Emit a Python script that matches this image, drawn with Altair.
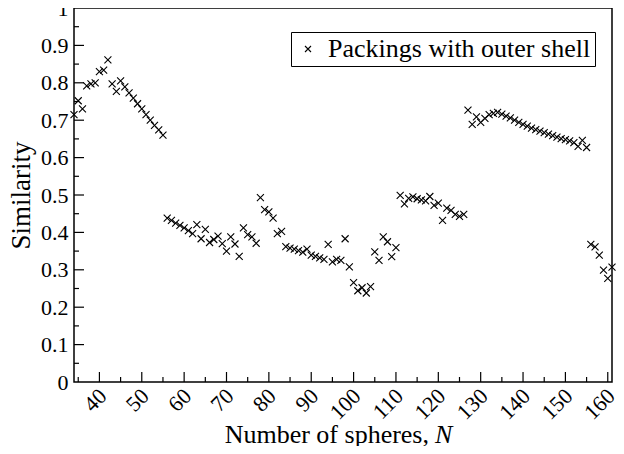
import altair as alt
import pandas as pd

# Number of spheres N (consecutive integers 34..161)
n_values = list(range(34, 162))

similarity = [
    # 34-55
    0.715, 0.752, 0.730, 0.792, 0.797, 0.800, 0.830, 0.834, 0.861, 0.797, 0.777,
    0.805, 0.789, 0.773, 0.759, 0.744, 0.730, 0.715, 0.700, 0.686, 0.674, 0.660,
    # 56-87
    0.438, 0.432, 0.425, 0.419, 0.412, 0.405, 0.397, 0.421, 0.383, 0.408, 0.373,
    0.381, 0.390, 0.370, 0.350, 0.388, 0.369, 0.336, 0.412, 0.394, 0.388, 0.371,
    0.493, 0.461, 0.455, 0.438, 0.397, 0.403, 0.362, 0.358, 0.355, 0.351,
    # 88-110
    0.347, 0.355, 0.339, 0.336, 0.332, 0.328, 0.368, 0.321, 0.328, 0.325, 0.383,
    0.308, 0.266, 0.244, 0.252, 0.238, 0.255, 0.348, 0.325, 0.388, 0.375, 0.335,
    0.359,
    # 111-126
    0.499, 0.476, 0.491, 0.495, 0.490, 0.487, 0.484, 0.496, 0.472, 0.478, 0.432,
    0.465, 0.459, 0.448, 0.443, 0.448,
    # 127-155
    0.727, 0.689, 0.709, 0.694, 0.705, 0.715, 0.718, 0.721, 0.716, 0.711, 0.706,
    0.700, 0.694, 0.689, 0.684, 0.679, 0.675, 0.671, 0.667, 0.663, 0.659, 0.655,
    0.651, 0.648, 0.645, 0.640, 0.630, 0.646, 0.627,
    # 156-161
    0.368, 0.361, 0.339, 0.299, 0.277, 0.307,
]

series_label = "Packings with outer shell"

x_major = [40, 50, 60, 70, 80, 90, 100, 110, 120, 130, 140, 150, 160]
x_minor = [35, 45, 55, 65, 75, 85, 95, 105, 115, 125, 135, 145, 155]
y_labels = [0, 0.1, 0.2, 0.3, 0.4, 0.5, 0.6, 0.7, 0.8, 0.9, 1]
y_major = [0.1, 0.2, 0.3, 0.4, 0.5, 0.6, 0.7, 0.8, 0.9]
y_minor = [0.05, 0.15, 0.25, 0.35, 0.45, 0.55, 0.65, 0.75, 0.85, 0.95]

x_title = "Number of spheres,"
x_title_var = "N"
y_title = "Similarity"

FONT = "Liberation Serif, Times New Roman, Times, serif"
XPATH = "M-1,-1L1,1M-1,1L1,-1"
W, H = 538, 374

df = pd.DataFrame({"N": n_values, "S": similarity, "series": series_label})

xscale = alt.Scale(domain=[34, 161], nice=False, zero=False)
yscale = alt.Scale(domain=[0, 1], nice=False)

xaxis = alt.Axis(values=x_major, labelAngle=-45, labelFont=FONT, labelFontSize=22,
                 labelColor="black", ticks=False, tickSize=0, domain=False,
                 grid=False, labelPadding=3, labelOffset=-4, title=None)
yaxis = alt.Axis(values=y_labels, format=".1~f", labelFont=FONT, labelFontSize=22,
                 labelColor="black", ticks=False, tickSize=0, domain=False,
                 grid=False, labelPadding=6, title=y_title, titleFont=FONT,
                 titleFontSize=27, titleFontWeight="normal", titleColor="black",
                 titlePadding=5)

X = alt.X("N:Q", scale=xscale, axis=xaxis)
Y = alt.Y("S:Q", scale=yscale, axis=yaxis)

points = alt.Chart(df).mark_point(
    shape=XPATH, size=49, filled=False, strokeWidth=1.1, opacity=1
).encode(
    x=X, y=Y,
    color=alt.Color("series:N", scale=alt.Scale(range=["black"]),
                    legend=alt.Legend(title=None, orient="none", legendX=217, legendY=24,
                                      strokeColor="black", fillColor="white", padding=4,
                                      labelFont=FONT, labelFontSize=26, labelColor="black",
                                      labelLimit=500, symbolType=XPATH, symbolSize=36,
                                      symbolStrokeWidth=1.1, symbolStrokeColor="black",
                                      labelOffset=7, symbolOffset=0, cornerRadius=0)),
)

xmaj = alt.Chart(pd.DataFrame({"N": x_major})).mark_rule(color="black", strokeWidth=1.2).encode(
    x=X, y=alt.value(H), y2=alt.value(H - 10))
xmin = alt.Chart(pd.DataFrame({"N": x_minor})).mark_rule(color="black", strokeWidth=1.2).encode(
    x=X, y=alt.value(H), y2=alt.value(H - 5))
ymaj = alt.Chart(pd.DataFrame({"S": y_major})).mark_rule(color="black", strokeWidth=1.2).encode(
    y=Y, x=alt.value(0), x2=alt.value(10))
ymin = alt.Chart(pd.DataFrame({"S": y_minor})).mark_rule(color="black", strokeWidth=1.2).encode(
    y=Y, x=alt.value(0), x2=alt.value(5))

t1 = alt.Chart(pd.DataFrame({"t": [x_title]})).mark_text(
    align="right", baseline="alphabetic", font=FONT, fontSize=26, color="black"
).encode(text="t:N", x=alt.value(355), y=alt.value(435))
t2 = alt.Chart(pd.DataFrame({"t": [x_title_var]})).mark_text(
    align="left", baseline="alphabetic", font=FONT, fontSize=26, fontStyle="italic", color="black"
).encode(text="t:N", x=alt.value(361), y=alt.value(435))

chart = alt.layer(xmaj, xmin, ymaj, ymin, points, t1, t2).properties(
    width=W, height=H,
    padding={"left": 66, "top": 0, "right": 4, "bottom": 64},
    autosize=alt.AutoSizeParams(type="none"),
).configure_view(stroke="black", strokeWidth=1.5)

chart.save("out.html", embed_options={"renderer": "svg", "actions": False})
